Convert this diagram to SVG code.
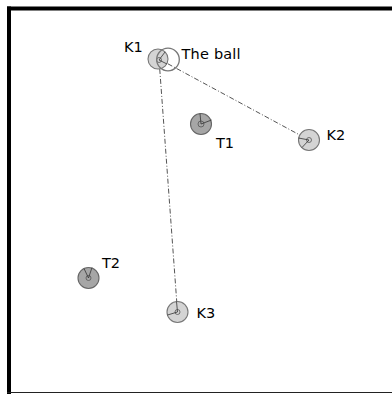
<svg xmlns="http://www.w3.org/2000/svg" width="392" height="394" viewBox="0 0 392 394">
<style>
.lbl{font-family:"DejaVu Sans",sans-serif;font-size:14.5px;fill:#000}
.k{fill:#d4d4d4;stroke:#777;stroke-width:1.1}
.t{fill:#a6a6a6;stroke:#666;stroke-width:1.1}
.in{fill:none;stroke:#555;stroke-width:0.8}
.dir{stroke:#333;stroke-width:0.8}
.link{stroke:#555;stroke-width:1;stroke-dasharray:5,2,1,2;fill:none}
</style>
<rect x="0" y="0" width="392" height="394" fill="#fff"/>
<g id="frame">
<rect x="7" y="6.5" width="385" height="4" fill="#000"/>
<rect x="7" y="6.5" width="4" height="387.5" fill="#000"/>
<line x1="7" y1="392.5" x2="392" y2="392.5" stroke="#222" stroke-width="1"/>
</g>
<g id="connectors">
<line class="link" x1="159" y1="59" x2="309" y2="140"/>
<line class="link" x1="159" y1="59" x2="177.5" y2="312"/>
</g>
<g id="K1">
<circle class="k" cx="158" cy="59" r="10"/>
<circle class="in" cx="159" cy="60" r="2.5"/>
<line class="dir" x1="159" y1="60" x2="165" y2="52"/>
<line class="dir" x1="159" y1="60" x2="167" y2="64"/>
<text class="lbl" x="124" y="52">K1</text>
</g>
<g id="ball">
<circle cx="168" cy="59.5" r="11.3" fill="none" stroke="#777" stroke-width="1.3"/>
<text class="lbl" x="181.5" y="58.5" letter-spacing="0.2">The ball</text>
</g>
<g id="T1">
<circle class="t" cx="201" cy="124" r="10.5"/>
<circle class="in" cx="201" cy="124" r="3"/>
<line class="dir" x1="201" y1="124" x2="200" y2="113.5"/>
<line class="dir" x1="201" y1="124" x2="211.5" y2="120"/>
<text class="lbl" x="216" y="148">T1</text>
</g>
<g id="K2">
<circle class="k" cx="309" cy="140" r="10.5"/>
<circle class="in" cx="309" cy="140" r="2.5"/>
<line class="dir" x1="309" y1="140" x2="298.5" y2="138"/>
<line class="dir" x1="309" y1="140" x2="302" y2="147.5"/>
<text class="lbl" x="326.5" y="140">K2</text>
</g>
<g id="T2">
<circle class="t" cx="88.5" cy="278" r="10.5"/>
<circle class="in" cx="88.5" cy="278" r="2.5"/>
<line class="dir" x1="88.5" y1="278" x2="92" y2="267.5"/>
<line class="dir" x1="88.5" y1="278" x2="84" y2="268.5"/>
<text class="lbl" x="102" y="268">T2</text>
</g>
<g id="K3">
<circle class="k" cx="177.5" cy="312" r="10.5"/>
<circle class="in" cx="177.5" cy="312" r="2.5"/>
<line class="dir" x1="177.5" y1="312" x2="176.5" y2="301.5"/>
<line class="dir" x1="177.5" y1="312" x2="167.5" y2="315"/>
<text class="lbl" x="196.5" y="317.5">K3</text>
</g>
</svg>
